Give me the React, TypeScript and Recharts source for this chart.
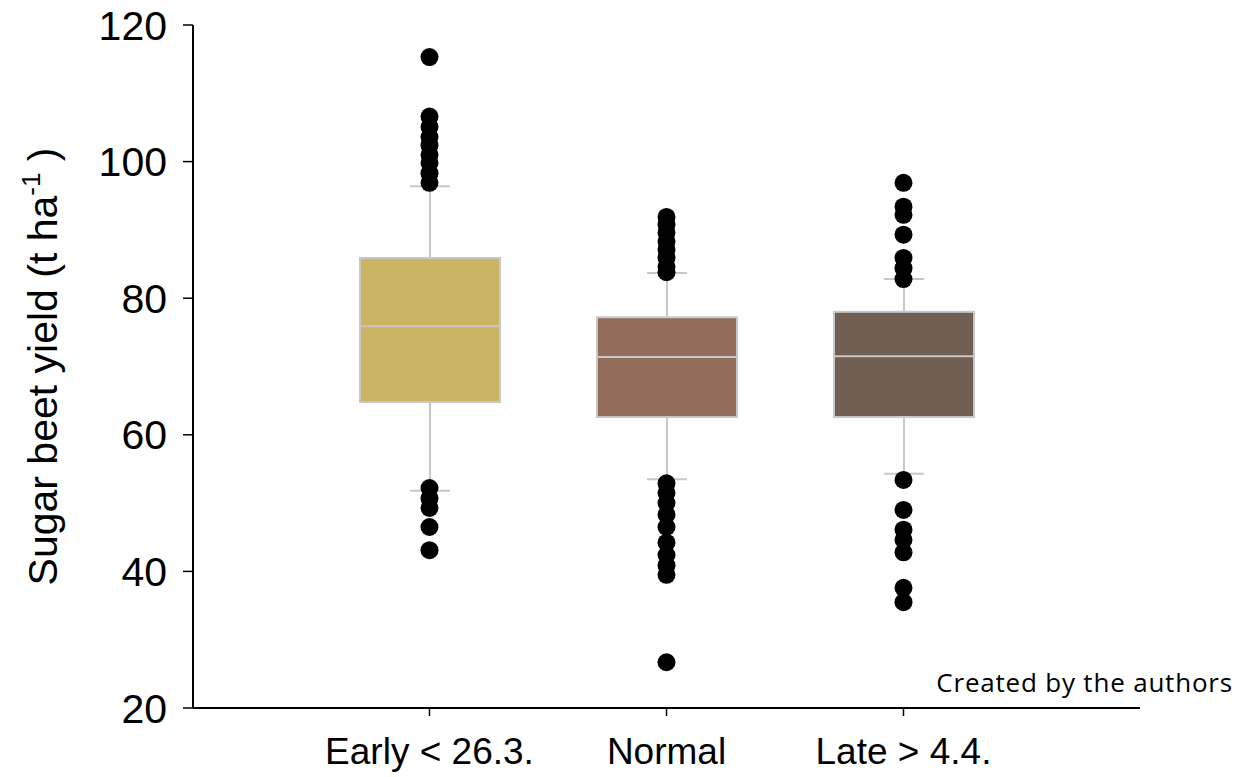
import { ComposedChart, Bar, Scatter, XAxis, YAxis, Label } from "recharts";

const categories = ["Early < 26.3.", "Normal", "Late > 4.4."];
const whiskerLow = [51.8, 53.5, 54.3];
const q1 = [64.8, 62.6, 62.6];
const median = [75.9, 71.4, 71.5];
const q3 = [85.9, 77.2, 78.0];
const whiskerHigh = [96.4, 83.7, 82.8];
const fills = ["#CBB463", "#926B5A", "#715E53"];

const earlyOutliers = [115.3, 106.6, 105.1, 103.6, 102.4, 101.0, 99.8, 98.3, 96.9, 52.2, 50.7, 49.3, 46.5, 43.1];
const normalOutliers = [91.9, 90.8, 89.6, 88.3, 87.1, 85.9, 84.6, 83.8, 52.9, 51.5, 50.0, 48.3, 46.5, 44.2, 42.4, 40.9, 39.5, 26.7];
const lateOutliers = [96.9, 93.4, 92.2, 89.3, 85.9, 84.4, 82.8, 53.4, 49.0, 46.1, 44.6, 42.8, 37.6, 35.5];

const yTicks = [20, 40, 60, 80, 100, 120];

const boxes = categories.map((cat, i) => ({
  cat,
  range: [whiskerLow[i], whiskerHigh[i]],
  lo: whiskerLow[i],
  q1: q1[i],
  med: median[i],
  q3: q3[i],
  hi: whiskerHigh[i],
  fill: fills[i],
}));

const outliers = [
  ...earlyOutliers.map((v) => ({ cat: categories[0], v })),
  ...normalOutliers.map((v) => ({ cat: categories[1], v })),
  ...lateOutliers.map((v) => ({ cat: categories[2], v })),
];

const FONT = "'Liberation Sans', Arial, sans-serif";
const GREY = "#c8c8c8";

// whole box drawn from the range bar: pixel per unit comes from the bar's own height
const BoxShape = (props: any) => {
  const { x, y, width, height, payload } = props;
  const k = height / (payload.hi - payload.lo);
  const py = (v: number) => y + (payload.hi - v) * k;
  const cx = x + width / 2;
  const cap = 20;
  return (
    <g>
      <line x1={cx} x2={cx} y1={py(payload.hi)} y2={py(payload.lo)} stroke={GREY} strokeWidth={2} />
      <line x1={cx - cap} x2={cx + cap} y1={py(payload.hi)} y2={py(payload.hi)} stroke={GREY} strokeWidth={2} />
      <line x1={cx - cap} x2={cx + cap} y1={py(payload.lo)} y2={py(payload.lo)} stroke={GREY} strokeWidth={2} />
      <rect
        x={x}
        y={py(payload.q3)}
        width={width}
        height={py(payload.q1) - py(payload.q3)}
        fill={payload.fill}
        stroke={GREY}
        strokeWidth={2}
      />
      <line x1={x} x2={x + width} y1={py(payload.med)} y2={py(payload.med)} stroke={GREY} strokeWidth={2} />
    </g>
  );
};

const Dot = (props: any) => <circle cx={props.cx} cy={props.cy} r={9} fill="#000" />;

const YTitle = (props: any) => {
  const vb = props.viewBox;
  const cx = vb.x + 57;
  const cy = vb.y + vb.height / 2;
  return (
    <text
      x={cx}
      y={cy}
      transform={`rotate(-90 ${cx} ${cy})`}
      textAnchor="middle"
      fontFamily={FONT}
      fontSize={41}
      fill="#000"
    >
      <tspan>Sugar beet yield (t ha</tspan>
      <tspan dy={-17} fontSize={26}>-1</tspan>
      <tspan dy={17}> )</tspan>
    </text>
  );
};

const Credit = (props: any) => {
  const vb = props.viewBox;
  return (
    <text
      x={vb.x + vb.width + 93}
      y={vb.y - 16}
      textAnchor="end"
      fontFamily="'Open Sans', sans-serif"
      fontSize={26}
      letterSpacing={0.8}
      fill="#000"
    >
      Created by the authors
    </text>
  );
};

export default function App() {
  return (
    <div style={{ position: "absolute", left: 0, top: 0, background: "#fff" }}>
      <ComposedChart
        width={1260}
        height={777}
        data={boxes}
        margin={{ top: 25, right: 120, bottom: 9, left: 0 }}
      >
        <XAxis
          dataKey="cat"
          type="category"
          allowDuplicatedCategory={false}
          padding={{ left: 118, right: 118 }}
          height={60}
          axisLine={{ stroke: "#000", strokeWidth: 2 }}
          tickLine={{ stroke: "#000", strokeWidth: 1.5 }}
          tickSize={8}
          tickMargin={22}
          tick={{ fontFamily: FONT, fontSize: 37, fill: "#000" }}
          interval={0}
        >
          <Label content={<Credit />} />
        </XAxis>
        <YAxis
          type="number"
          domain={[20, 120]}
          ticks={yTicks}
          width={193}
          axisLine={{ stroke: "#000", strokeWidth: 2 }}
          tickLine={{ stroke: "#000", strokeWidth: 1.5 }}
          tickSize={10}
          tickMargin={16}
          tick={{ fontFamily: FONT, fontSize: 41, fill: "#000" }}
        >
          <Label content={<YTitle />} />
        </YAxis>
        <Bar dataKey="range" barSize={140} shape={<BoxShape />} isAnimationActive={false} />
        <Scatter data={outliers} dataKey="v" shape={<Dot />} isAnimationActive={false} />
      </ComposedChart>
    </div>
  );
}
